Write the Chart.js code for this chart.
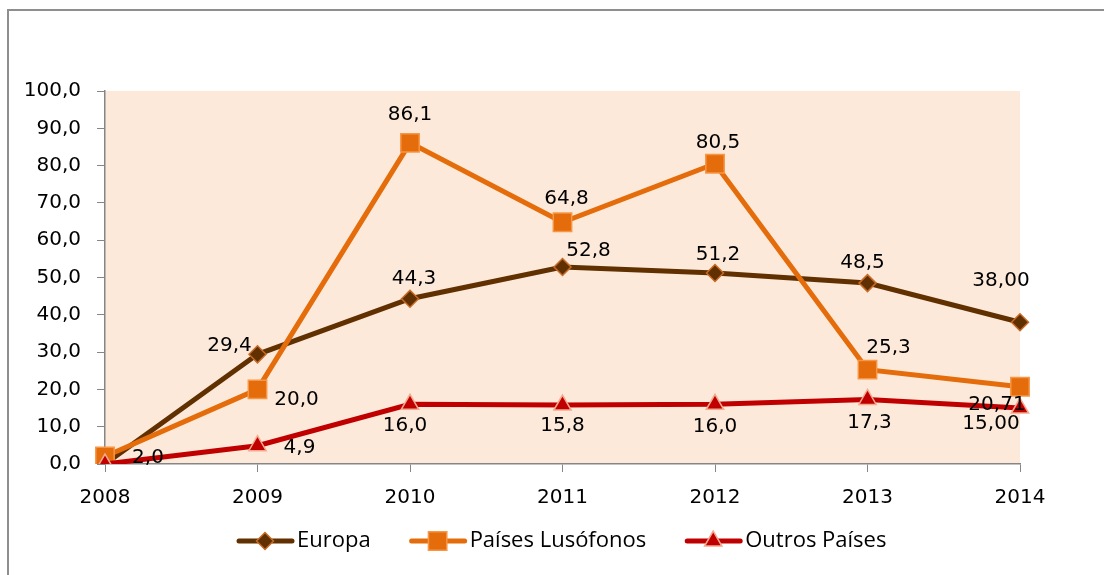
<!DOCTYPE html>
<html>
<head>
<meta charset="utf-8">
<script src="https://cdn.jsdelivr.net/npm/chart.js@4"></script>
<style>
  html, body { margin: 0; padding: 0; background: #fff; overflow: hidden; }
  #wrap { position: relative; width: 1104px; height: 575px; }
  #frame { position: absolute; left: 7px; top: 9px; width: 1200px; height: 700px;
           border-left: 2px solid #8e8e8e; border-top: 2px solid #8e8e8e; }
  canvas { position: absolute; left: 0; top: 0; }
</style>
</head>
<body>
<div id="wrap">
  <div id="frame"></div>
  <canvas id="chart" width="1104" height="575"></canvas>
</div>
<script>
const years = ['2008', '2009', '2010', '2011', '2012', '2013', '2014'];
const europa = [0, 29.4, 44.3, 52.8, 51.2, 48.5, 38.0];
const lusofonos = [2.0, 20.0, 86.1, 64.8, 80.5, 25.3, 20.71];
const outros = [0, 4.9, 16.0, 15.8, 16.0, 17.3, 15.0];
// casas decimais de cada rótulo
const europaDec = [1, 1, 1, 1, 1, 1, 2];
const lusofonosDec = [1, 1, 1, 1, 1, 1, 2];
const outrosDec = [1, 1, 1, 1, 1, 1, 2];

// deslocamento dos rótulos em relação ao ponto (px)
const europaOff = [null, [-28, -9], [4, -20], [26, -16], [3, -18], [-5, -20], [-19, -41]];
const lusofonosOff = [[43, 1], [39, 10], [0, -28], [4, -23], [3, -21], [21, -22], [-23, 18]];
const outrosOff = [null, [42, 2], [-5, 21], [0, 21], [0, 22], [2, 23], [-29, 16]];

const numFont = '20px "DejaVu Sans"';
const fmt = (v, d) => v.toFixed(d).replace('.', ',');

const plotBg = {
  id: 'plotBg',
  beforeDraw(chart) {
    const a = chart.chartArea, ctx = chart.ctx;
    ctx.save();
    ctx.fillStyle = '#FDE9D9';
    ctx.fillRect(a.left, a.top, a.right - a.left, a.bottom - a.top);
    ctx.restore();
  }
};

const valueLabels = {
  id: 'valueLabels',
  afterDatasetsDraw(chart) {
    const ctx = chart.ctx;
    ctx.save();
    ctx.font = numFont;
    ctx.fillStyle = '#000';
    ctx.textAlign = 'center';
    ctx.textBaseline = 'middle';
    chart.data.datasets.forEach((ds, i) => {
      const meta = chart.getDatasetMeta(i);
      meta.data.forEach((pt, j) => {
        const off = ds.labelOff[j];
        if (!off) return;
        ctx.fillText(fmt(ds.data[j], ds.dec[j]), pt.x + off[0], pt.y + off[1]);
      });
    });
    ctx.restore();
  }
};

const lineLegend = {
  id: 'lineLegend',
  afterDraw(chart) {
    const ctx = chart.ctx;
    let x = 237;
    const y = 541;
    ctx.save();
    ctx.font = '22px "Open Sans"';
    ctx.textBaseline = 'middle';
    ctx.textAlign = 'left';
    chart.data.datasets.forEach(ds => {
      ctx.strokeStyle = ds.borderColor;
      ctx.lineWidth = 5;
      ctx.lineCap = 'round';
      ctx.beginPath();
      ctx.moveTo(x + 2, y);
      ctx.lineTo(x + 55, y);
      ctx.stroke();
      ctx.fillStyle = ds.pointBackgroundColor;
      ctx.strokeStyle = ds.pointBorderColor;
      ctx.lineWidth = ds.pointBorderWidth;
      Chart.helpers.drawPoint(ctx, {pointStyle: ds.pointStyle, radius: ds.pointRadius, rotation: 0, borderWidth: ds.pointBorderWidth}, x + 28, y);
      ctx.fillStyle = '#000';
      ctx.fillText(ds.label, x + 60, y);
      x += 60 + ctx.measureText(ds.label).width + 39;
    });
    ctx.restore();
  }
};

new Chart(document.getElementById('chart'), {
  type: 'line',
  data: {
    labels: years,
    datasets: [
      {
        label: 'Europa', data: europa, dec: europaDec, labelOff: europaOff,
        borderColor: '#603000', borderWidth: 5,
        pointStyle: 'rectRot', pointRadius: 8.5, pointBackgroundColor: '#603000',
        pointBorderColor: '#C86A26', pointBorderWidth: 1.5, order: 3
      },
      {
        label: 'Países Lusófonos', data: lusofonos, dec: lusofonosDec, labelOff: lusofonosOff,
        borderColor: '#E46C0A', borderWidth: 5,
        pointStyle: 'rect', pointRadius: 13, pointBackgroundColor: '#E46C0A',
        pointBorderColor: '#F79646', pointBorderWidth: 1.5, order: 2
      },
      {
        label: 'Outros Países', data: outros, dec: outrosDec, labelOff: outrosOff,
        borderColor: '#C00000', borderWidth: 5,
        pointStyle: 'triangle', pointRadius: 10, pointBackgroundColor: '#C00000',
        pointBorderColor: '#F4A98F', pointBorderWidth: 1.5, order: 1
      }
    ]
  },
  options: {
    responsive: false,
    animation: false,
    layout: { padding: { top: 91, right: 84, bottom: 0, left: 0 } },
    plugins: { legend: { display: false }, tooltip: { enabled: false } },
    elements: { line: { tension: 0 } },
    scales: {
      x: {
        offset: false,
        grid: { drawOnChartArea: false, drawTicks: true, tickLength: 8, color: '#868686' },
        border: { display: true, color: '#868686', width: 1.5 },
        ticks: { color: '#000', font: { family: 'DejaVu Sans', size: 20 }, padding: 14, maxRotation: 0 },
        afterFit(s) { s.height = 111; }
      },
      y: {
        min: 0, max: 100,
        grid: { drawOnChartArea: false, drawTicks: true, tickLength: 8, color: '#868686' },
        border: { display: true, color: '#868686', width: 1.5 },
        ticks: { stepSize: 10, color: '#000', font: { family: 'DejaVu Sans', size: 20 }, padding: 16,
                 callback: v => fmt(v, 1) },
        afterFit(s) { s.width = 105; }
      }
    }
  },
  plugins: [plotBg, valueLabels, lineLegend]
});
</script>
</body>
</html>
